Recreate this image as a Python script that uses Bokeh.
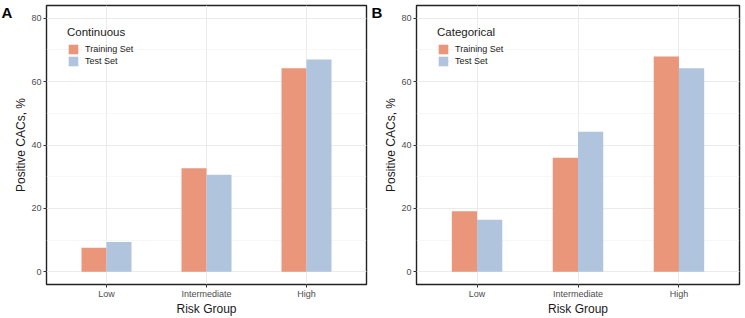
from bokeh.plotting import figure
from bokeh.models import (FactorRange, Range1d, SingleIntervalTicker, Legend,
                          LegendItem, Label, ColumnDataSource)
from bokeh.transform import dodge
from bokeh.layouts import row
from bokeh.embed import file_html
from bokeh.resources import INLINE

groups = ["Low", "Intermediate", "High"]
series = ["Training Set", "Test Set"]
colors = ["#E9967A", "#B0C4DE"]

a_training = [7.6, 32.7, 64.2]
a_test = [9.4, 30.6, 67.0]
b_training = [19.1, 36.0, 67.9]
b_test = [16.4, 44.2, 64.2]

FONT = "Liberation Sans"
H = 318
BORDER_TOP = 5
BORDER_BOTTOM = 32
Y_MIN, Y_MAX = -4, 84
X_PAD = 0.1


def make_panel(letter, legend_title, train, test, width, left_border, right_border):
    src = ColumnDataSource(dict(group=groups, train=train, test=test))
    p = figure(x_range=FactorRange(factors=groups, range_padding=X_PAD,
                                   range_padding_units="absolute"),
               y_range=Range1d(Y_MIN, Y_MAX),
               width=width, height=H, output_backend="svg", toolbar_location=None,
               min_border_left=left_border, min_border_right=right_border,
               min_border_top=BORDER_TOP, min_border_bottom=BORDER_BOTTOM)
    r1 = p.vbar(x=dodge("group", -0.125, range=p.x_range), top="train", bottom=0,
                width=0.25, source=src, fill_color=colors[0], line_color=None)
    r2 = p.vbar(x=dodge("group", 0.125, range=p.x_range), top="test", bottom=0,
                width=0.25, source=src, fill_color=colors[1], line_color=None)

    p.background_fill_color = "white"
    p.border_fill_color = "white"
    p.outline_line_color = "#222222"
    p.outline_line_width = 1.4

    p.yaxis.ticker = SingleIntervalTicker(interval=20, num_minor_ticks=2)
    for ax in (p.xaxis[0], p.yaxis[0]):
        ax.axis_line_color = None
        ax.major_tick_line_color = "#333333"
        ax.major_tick_out = 3
        ax.major_tick_in = 0
        ax.minor_tick_line_color = None
        ax.major_label_text_font = FONT
        ax.major_label_text_font_size = "9px"
        ax.major_label_text_color = "#4D4D4D"
        ax.major_label_standoff = 1
        ax.axis_label_text_font = FONT
        ax.axis_label_text_font_size = "12px"
        ax.axis_label_text_font_style = "normal"
        ax.axis_label_text_color = "#1A1A1A"
        ax.axis_label_standoff = 0
    p.xaxis.axis_label = "Risk Group"
    p.yaxis.axis_label = "Positive CACs, %"

    p.xgrid.grid_line_color = "#EBEBEB"
    p.xgrid.grid_line_width = 1
    p.ygrid.grid_line_color = "#EBEBEB"
    p.ygrid.grid_line_width = 1
    p.ygrid.minor_grid_line_color = "#F2F2F2"
    p.ygrid.minor_grid_line_width = 0.6

    legend = Legend(items=[LegendItem(label=series[0], renderers=[r1]),
                           LegendItem(label=series[1], renderers=[r2])],
                    title=legend_title, location="top_left",
                    margin=21, padding=3, spacing=0,
                    glyph_width=12, glyph_height=12, label_height=12,
                    label_standoff=6, title_standoff=5,
                    border_line_color=None, background_fill_alpha=0,
                    label_text_font=FONT, label_text_font_size="9px",
                    label_text_color="#1A1A1A",
                    title_text_font=FONT, title_text_font_size="11.5px",
                    title_text_font_style="normal", title_text_color="#1A1A1A")
    p.add_layout(legend)

    # panel letter, drawn in the left side panel (not clipped by the frame),
    # its top aligned with the frame's top
    lab = Label(x=1, y=Y_MAX, x_units="screen", y_units="data", y_offset=2,
                text=letter, text_font=FONT, text_font_size="15px",
                text_font_style="bold", text_baseline="top", text_align="left",
                text_color="black")
    p.add_layout(lab, "left")
    return p


pa = make_panel("A", "Continuous", a_training, a_test, 370, 34, 4)
pb = make_panel("B", "Categorical", b_training, b_test, 375, 36, 6)

layout = row(pa, pb, spacing=0)
open("out.html", "w").write(file_html(layout, INLINE))
